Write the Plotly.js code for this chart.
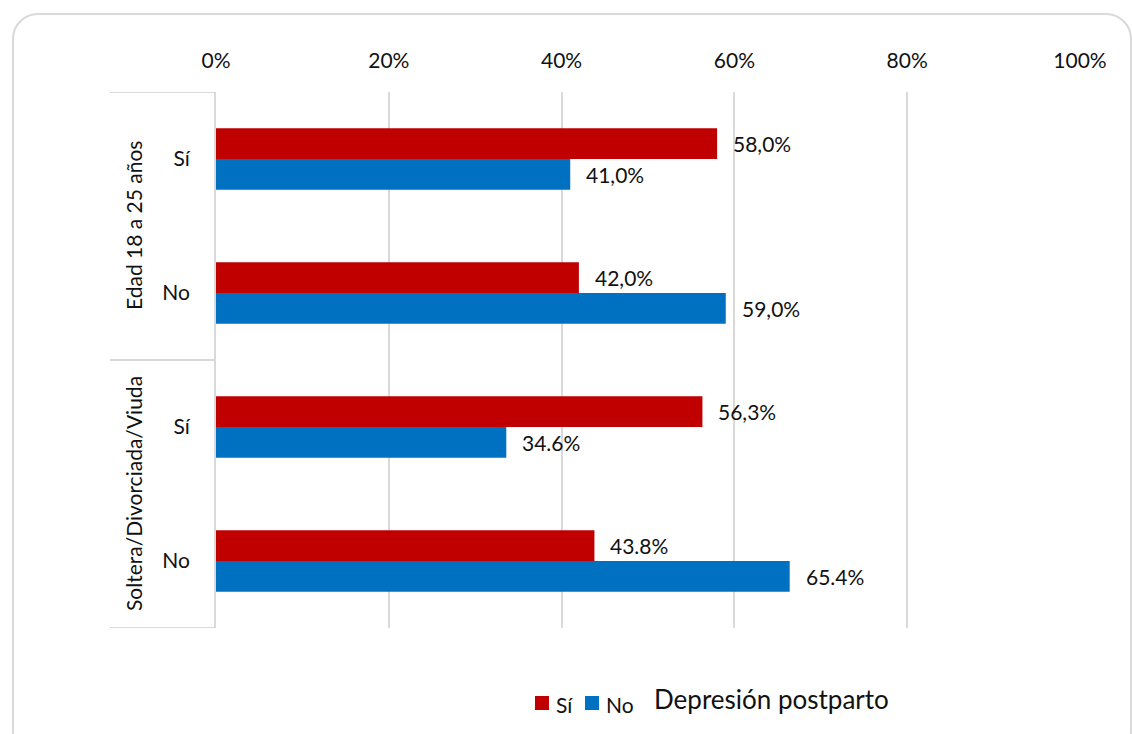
<!DOCTYPE html>
<html>
<head>
<meta charset="utf-8">
<script src="https://cdn.plot.ly/plotly-3.0.1.min.js"></script>
<style>
  html, body { margin: 0; padding: 0; background: #fff; }
  #wrap { position: relative; width: 1132px; height: 734px; overflow: hidden; }
  #chart { position: absolute; left: 0; top: 0; width: 1132px; height: 734px; }
  #frame { position: absolute; left: 12px; top: 13px; width: 1116px; height: 740px;
           border: 2px solid #d9d9d9; border-radius: 26px; pointer-events: none; }
</style>
</head>
<body>
<div id="wrap">
  <div id="chart"></div>
  <div id="frame"></div>
</div>
<script>
// Data
const groups = ["Edad 18 a 25 años", "Soltera/Divorciada/Viuda"];
const subCategories = ["Sí", "No", "Sí", "No"];
const seriesNames = ["Sí", "No"];
const valuesSi = [58.0, 42.0, 56.3, 43.8];
const valuesNo = [41.0, 59.0, 33.6, 66.4];
const labelsSi = ["58,0%", "42,0%", "56,3%", "43.8%"];
const labelsNo = ["41,0%", "59,0%", "34.6%", "65.4%"];
const tickValsX = [0, 20, 40, 60, 80, 100];
const tickTextX = ["0%", "20%", "40%", "60%", "80%", "100%"];
const legendTitle = "Depresión postparto";

const colors = ["#C00000", "#0070C0"];
const FONT = "Lato, 'Open Sans', sans-serif";
const TXT = "#111";
const positions = subCategories.map((_, i) => i);
const BARGAP = 0.54;
const half = (1 - BARGAP) / 4; // centre offset of each bar inside its group

const traces = [
  { type: "bar", orientation: "h", name: seriesNames[0], y: positions, x: valuesSi,
    marker: { color: colors[0] }, hoverinfo: "skip" },
  { type: "bar", orientation: "h", name: seriesNames[1], y: positions, x: valuesNo,
    marker: { color: colors[1] }, hoverinfo: "skip" }
];

const lineColor = "#d9d9d9";
const W = 864, H = 536, L = 216, T = 92;
const px = v => (v - L) / W;          // pixel x -> paper
const py = v => (T + H - v) / H;      // pixel y -> paper
const shapes = [];
[-0.5, 1.5, 3.5].forEach(v => {
  shapes.push({ type: "line", xref: "paper", yref: "y", x0: px(110), x1: 0, y0: v, y1: v,
    line: { color: lineColor, width: 2 }, layer: "above" });
});

const annotations = [];
groups.forEach((g, i) => annotations.push({
  text: g, xref: "paper", yref: "y", x: px(133), y: 2 * i + 0.5,
  textangle: -90, showarrow: false, xanchor: "center", yanchor: "middle",
  font: { family: FONT, size: 21, color: TXT }
}));
// value labels beside bar ends
[[valuesSi, labelsSi, -half], [valuesNo, labelsNo, half]].forEach(([vals, labs, off]) => {
  vals.forEach((v, i) => annotations.push({
    text: labs[i], xref: "x", yref: "y", x: v, y: positions[i] + off,
    xanchor: "left", yanchor: "middle", xshift: 14, showarrow: false,
    font: { family: FONT, size: 21, color: TXT }
  }));
});

// legend (keys + names + title) at the bottom
const legendKeyX = [535, 585];
const legendY = 703;
seriesNames.forEach((n, i) => {
  shapes.push({ type: "rect", xref: "paper", yref: "paper",
    xsizemode: "pixel", ysizemode: "pixel", xanchor: px(legendKeyX[i]), yanchor: py(legendY),
    x0: 0, x1: 14, y0: -7, y1: 7, fillcolor: colors[i], line: { width: 0 } });
  annotations.push({ text: n, xref: "paper", yref: "paper", x: px(legendKeyX[i] + 19), y: py(legendY + 1),
    xanchor: "left", yanchor: "middle", showarrow: false,
    font: { family: FONT, size: 21, color: TXT } });
});
annotations.push({
  text: legendTitle, xref: "paper", yref: "paper", x: px(652), y: py(699),
  xanchor: "left", yanchor: "middle", showarrow: false,
  font: { family: FONT, size: 26, color: TXT }
});

const layout = {
  width: 1132, height: 734,
  margin: { l: L, r: 1132 - L - W, t: T, b: 734 - T - H },
  paper_bgcolor: "#fff", plot_bgcolor: "#fff",
  font: { family: FONT, size: 21, color: TXT },
  barmode: "group", bargap: BARGAP, bargroupgap: 0,
  showlegend: false,
  xaxis: { side: "top", range: [0, 100], tickvals: tickValsX, ticktext: tickTextX,
           showgrid: true, gridcolor: lineColor, gridwidth: 2,
           zeroline: false, showline: false, ticks: "", ticklabelstandoff: 19,
           fixedrange: true },
  yaxis: { range: [3.5, -0.5], tickvals: positions, ticktext: subCategories,
           showgrid: false, zeroline: false, showline: true, linecolor: lineColor, linewidth: 2,
           ticks: "", ticklabelstandoff: 20, fixedrange: true },
  shapes: shapes,
  annotations: annotations
};

Plotly.newPlot("chart", traces, layout, { displayModeBar: false, staticPlot: true });
</script>
</body>
</html>
